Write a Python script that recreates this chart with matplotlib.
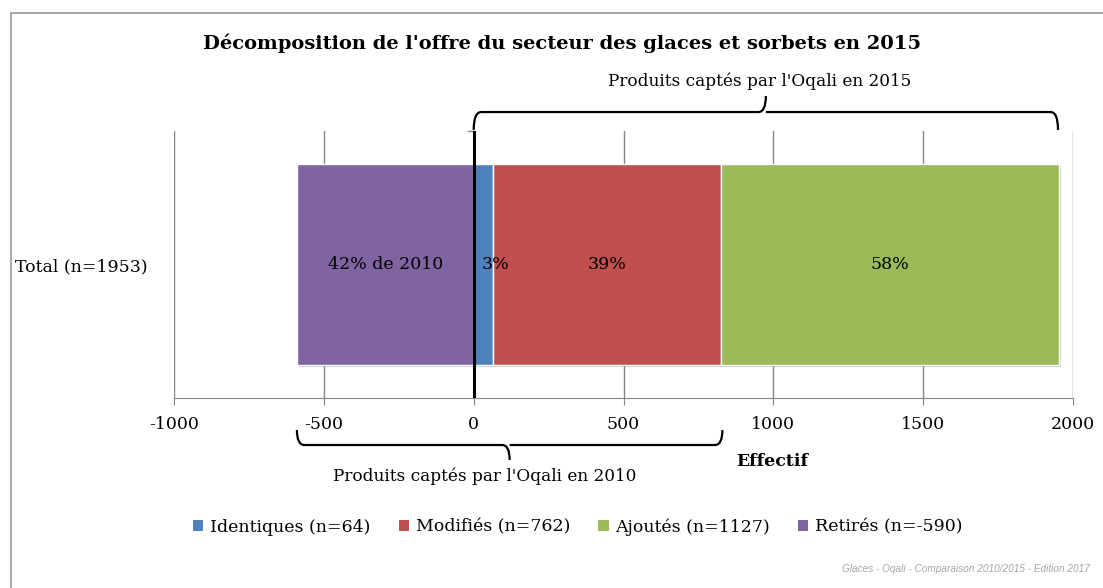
import matplotlib.pyplot as plt
from matplotlib.path import Path
from matplotlib.patches import PathPatch, Patch
import matplotlib.transforms as mtransforms
import matplotlib.patheffects as pe

plt.rcParams['font.family'] = ['DejaVu Serif']

category = "Total (n=1953)"
series = ["Identiques (n=64)", "Modifiés (n=762)", "Ajoutés (n=1127)", "Retirés (n=-590)"]
values = [64, 762, 1127, -590]
colors = ["#4F81BD", "#C0504D", "#9BBB59", "#8064A2"]
bar_labels = ["3%", "39%", "58%", "42% de 2010"]
xticks = [-1000, -500, 0, 500, 1000, 1500, 2000]

FS = 12.5

fig = plt.figure(figsize=(11.03, 5.88), dpi=100)
ax = fig.add_axes([0.1578, 0.3231, 0.815, 0.4541])

# frame around the chart
fig.patches.append(plt.Rectangle((11 / 1103, -0.1), 1.2, 1 - 13 / 588 + 0.1,
                                 transform=fig.transFigure, fill=False,
                                 edgecolor="#9a9a9a", lw=1.2))

# stacked bars: positives from 0, negative to the left
left = 0
lefts = []
for v in values:
    if v >= 0:
        lefts.append(left)
        left += v
    else:
        lefts.append(0)
shadow = [pe.SimplePatchShadow(offset=(1.5, -1.5), alpha=0.25), pe.Normal()]
for name, v, l, c, lab in zip(series, values, lefts, colors, bar_labels):
    ax.barh(0, v, left=l, height=0.75, color=c, edgecolor="white", lw=1, zorder=3,
            path_effects=shadow)
    off = 12 if abs(v) < 100 else 0
    ax.annotate(lab, (l + v / 2, 0), xytext=(off, 0), textcoords="offset pixels",
                ha="center", va="center", fontsize=FS, zorder=5)

ax.set_xlim(-1000, 2000)
ax.set_ylim(-0.5, 0.5)
ax.set_xticks(xticks)
ax.set_xticklabels([str(t) for t in xticks], fontsize=FS)
ax.set_yticks([0])
ax.set_yticklabels([category], fontsize=FS)
ax.tick_params(axis="y", length=0, pad=19)
ax.tick_params(axis="x", length=5, color="#868686", pad=8)
ax.grid(axis="x", color="#868686", lw=1, zorder=0)
for s in ["top", "right", "left"]:
    ax.spines[s].set_visible(False)
ax.spines["bottom"].set_color("#868686")

ax.axvline(0, 0, 1.0, color="black", lw=2.2, zorder=6)
ax.plot([-20, 0], [0.5, 0.5], color="#868686", lw=1, clip_on=False, zorder=2)

trans = mtransforms.blended_transform_factory(ax.transData, ax.transAxes)


def brace(x0, x1, yend, ymid, ytip, r=25):
    xm = (x0 + x1) / 2
    verts = [(x0, yend), (x0, ymid), (x0 + r, ymid),
             (xm - r, ymid), (xm, ymid), (xm, ytip),
             (xm, ymid), (xm + r, ymid),
             (x1 - r, ymid), (x1, ymid), (x1, yend)]
    codes = [Path.MOVETO, Path.CURVE3, Path.CURVE3,
             Path.LINETO, Path.CURVE3, Path.CURVE3,
             Path.MOVETO, Path.LINETO,
             Path.LINETO, Path.CURVE3, Path.CURVE3]
    ax.add_patch(PathPatch(Path(verts, codes), fill=False, lw=1.6,
                           edgecolor="black", transform=trans, clip_on=False))


brace(0, 1950, 1.004, 1.071, 1.131)
brace(-590, 830, -0.12, -0.176, -0.232)

fig.text(562 / 1103, 1 - 43 / 588, "Décomposition de l'offre du secteur des glaces et sorbets en 2015",
         ha="center", va="center", fontsize=14, fontweight="bold")
fig.text(760 / 1103, 1 - 81 / 588, "Produits captés par l'Oqali en 2015",
         ha="center", va="center", fontsize=12.2)
fig.text(485 / 1103, 1 - 476 / 588, "Produits captés par l'Oqali en 2010",
         ha="center", va="center", fontsize=12.2)
fig.text(772 / 1103, 1 - 462 / 588, "Effectif", ha="center", va="center",
         fontsize=FS, fontweight="bold")
fig.text(1090 / 1103, 1 - 569 / 588, "Glaces - Oqali - Comparaison 2010/2015 - Edition 2017",
         ha="right", va="center", fontsize=7.2, style="italic", color="#a6a6a6",
         family=["Liberation Sans"])

handles = [Patch(facecolor=c, edgecolor="none") for c in colors]
fig.legend(handles, series, loc="center", bbox_to_anchor=(0.524, 1 - 527 / 588),
           ncol=4, frameon=False, fontsize=FS, handlelength=0.6, handleheight=0.6,
           handletextpad=0.4, columnspacing=1.6)

fig.savefig("out.png", dpi=100)
